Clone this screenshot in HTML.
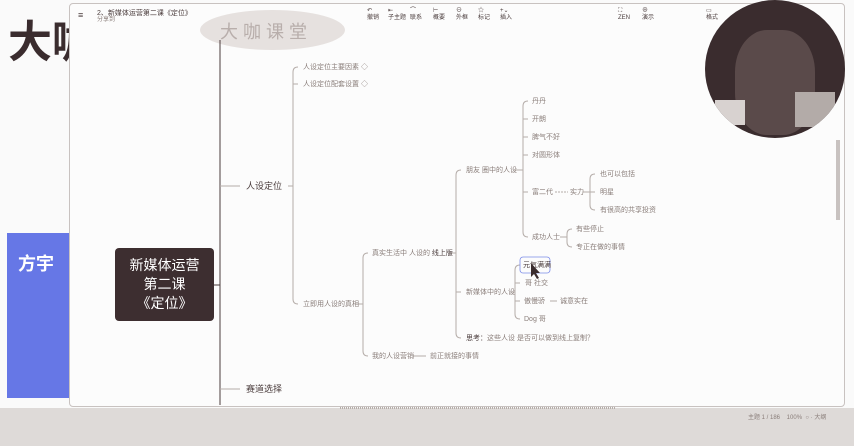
<!DOCTYPE html>
<html><head><meta charset="utf-8"><style>
body{margin:0;width:854px;height:446px;overflow:hidden;background:#fafafa;font-family:"Liberation Sans","Noto Sans CJK SC",sans-serif;position:relative}
.t{position:absolute;font-size:7px;color:#8a7e7a;white-space:nowrap;line-height:9px}
.d{color:#4a3c3c}
</style></head><body>
<div style="position:absolute;left:0;top:408px;width:854px;height:38px;background:#dedad8"></div>
<div style="position:absolute;left:8px;top:20px;font-size:44px;font-weight:bold;color:#3a2c2e;line-height:46px">大咖</div>
<div style="position:absolute;left:7px;top:233px;width:63px;height:165px;background:#6677e6"></div>
<div style="position:absolute;left:18px;top:250px;font-size:18px;font-weight:bold;color:#fff">方宇</div>
<div style="position:absolute;left:69px;top:3px;width:774px;height:402px;background:#fcfcfc;border:1px solid #c8c2c0;border-radius:4px"></div>
<div class="t d" style="left:78px;top:11px;font-size:9px">≡</div>
<div class="t d" style="left:97px;top:9px;font-size:7px">2、新媒体运营第二课《定位》</div>
<div class="t" style="left:97px;top:16px;font-size:6px">分享到</div>
<div style="position:absolute;left:200px;top:10px;width:145px;height:40px;border-radius:50%;background:#e6e1df"></div>
<div class="t" style="left:220px;top:22px;font-size:18px;color:#b8aeab;line-height:20px">大 咖 课 堂</div>
<div class="t d" style="left:367px;top:8px;font-size:6px;line-height:7px">↶<br>撤销</div>
<div class="t d" style="left:388px;top:8px;font-size:6px;line-height:7px">⇤<br>子主题</div>
<div class="t d" style="left:410px;top:8px;font-size:6px;line-height:7px">⌒<br>联系</div>
<div class="t d" style="left:433px;top:8px;font-size:6px;line-height:7px">⊢<br>概要</div>
<div class="t d" style="left:456px;top:8px;font-size:6px;line-height:7px">⊖<br>外框</div>
<div class="t d" style="left:478px;top:8px;font-size:6px;line-height:7px">☆<br>标记</div>
<div class="t d" style="left:500px;top:8px;font-size:6px;line-height:7px">+⌄<br>插入</div>
<div class="t d" style="left:618px;top:8px;font-size:6px;line-height:7px">⛶<br>ZEN</div>
<div class="t d" style="left:642px;top:8px;font-size:6px;line-height:7px">⊕<br>演示</div>
<div class="t d" style="left:706px;top:8px;font-size:6px;line-height:7px">▭<br>格式</div>
<div style="position:absolute;left:705px;top:0;width:140px;height:138px;border-radius:50%;background:#3a2c2e;overflow:hidden">
<div style="position:absolute;left:30px;top:30px;width:80px;height:105px;border-radius:40%;background:#5a4a4a"></div>
<div style="position:absolute;left:90px;top:92px;width:40px;height:35px;background:#b3aba8"></div>
<div style="position:absolute;left:10px;top:100px;width:30px;height:25px;background:#d8d2d0"></div>
</div>
<div style="position:absolute;left:836px;top:140px;width:4px;height:80px;background:#c8c2c0"></div>
<svg style="position:absolute;left:0;top:0" width="854" height="446">
<g fill="none" stroke="#b5ada9" stroke-width="1">
<line x1="220" y1="40" x2="220" y2="405" stroke="#4a3c3c"/>
<line x1="214" y1="285" x2="220" y2="285" stroke="#4a3c3c"/>
<line x1="220" y1="186" x2="240" y2="186"/>
<line x1="220" y1="389" x2="240" y2="389"/>
<line x1="288" y1="186" x2="293" y2="186"/>
<path d="M298 67 Q293 67 293 72 V299 Q293 304 298 304"/>
<line x1="293" y1="84" x2="298" y2="84"/>
<line x1="355" y1="304" x2="363" y2="304"/>
<path d="M368 253 Q363 253 363 258 V351 Q363 356 368 356"/>
<line x1="412" y1="356" x2="426" y2="356"/>
<line x1="448" y1="253" x2="456" y2="253"/>
<path d="M461 170 Q456 170 456 175 V333 Q456 338 461 338"/>
<line x1="456" y1="292" x2="461" y2="292"/>
<line x1="513" y1="170" x2="523" y2="170"/>
<path d="M528 101 Q523 101 523 106 V232 Q523 237 528 237"/>
<line x1="523" y1="119" x2="528" y2="119"/><line x1="523" y1="137" x2="528" y2="137"/><line x1="523" y1="155" x2="528" y2="155"/><line x1="523" y1="192" x2="528" y2="192"/>
<line x1="555" y1="192" x2="568" y2="192" stroke-dasharray="2 1"/>
<line x1="583" y1="192" x2="590" y2="192"/>
<path d="M595 174 Q590 174 590 179 V205 Q590 210 595 210"/>
<line x1="590" y1="192" x2="595" y2="192"/>
<line x1="560" y1="237" x2="567" y2="237"/>
<path d="M572 229 Q567 229 567 234 V242 Q567 247 572 247"/>
<line x1="510" y1="292" x2="515" y2="292"/>
<path d="M520 265 Q515 265 515 270 V314 Q515 319 520 319"/>
<line x1="515" y1="283" x2="520" y2="283"/><line x1="515" y1="301" x2="520" y2="301"/>
<line x1="550" y1="301" x2="557" y2="301"/>
</g>
<rect x="520" y="257" width="30" height="16" rx="3" fill="none" stroke="#7a8ae8" stroke-width="0.8"/>
<path d="M531 263 L531 277 L534 274 L537 279 L539 278 L536 273 L540 273 Z" fill="#3a2c2e"/>
<line x1="340" y1="408" x2="615" y2="408" stroke="#b5ada9" stroke-width="2" stroke-dasharray="1 1"/>
</svg>
<div style="position:absolute;left:115px;top:248px;width:99px;height:73px;background:#3d2e30;border-radius:4px;color:#fff;font-size:14px;line-height:19px;text-align:center;padding-top:8px;box-sizing:border-box">新媒体运营<br>第二课<br>《定位》</div>
<div class="t d" style="left:246px;top:181px;font-size:9px;line-height:11px">人设定位</div>
<div class="t d" style="left:246px;top:384px;font-size:9px;line-height:11px">赛道选择</div>
<div class="t" style="left:303px;top:63px">人设定位主要因素 ◇</div>
<div class="t" style="left:303px;top:80px">人设定位配套设置 ◇</div>
<div class="t" style="left:303px;top:300px">立即用人设的真相</div>
<div class="t" style="left:372px;top:249px">真实生活中 人设的 <span style="color:#4a3c3c">线上版</span></div>
<div class="t" style="left:372px;top:352px">我的人设营销</div>
<div class="t" style="left:430px;top:352px">前正就接的事情</div>
<div class="t" style="left:466px;top:166px">朋友 圈中的人设</div>
<div class="t" style="left:466px;top:288px">新媒体中的人设</div>
<div class="t" style="left:466px;top:334px"><span style="color:#4a3c3c">思考：</span>这些人设 是否可以做到线上复制？</div>
<div class="t" style="left:532px;top:97px">丹丹</div>
<div class="t" style="left:532px;top:115px">开朗</div>
<div class="t" style="left:532px;top:133px">脾气不好</div>
<div class="t" style="left:532px;top:151px">对圆形体</div>
<div class="t" style="left:532px;top:188px">富二代</div>
<div class="t" style="left:570px;top:188px">实力</div>
<div class="t" style="left:532px;top:233px">成功人士</div>
<div class="t" style="left:600px;top:170px">也可以包括</div>
<div class="t" style="left:600px;top:188px">明星</div>
<div class="t" style="left:600px;top:206px">有很高的共享投资</div>
<div class="t" style="left:576px;top:225px">有些停止</div>
<div class="t" style="left:576px;top:243px">专正在做的事情</div>
<div class="t d" style="left:523px;top:261px">元气满满</div>
<div class="t" style="left:525px;top:279px">哥 社交</div>
<div class="t" style="left:524px;top:297px">傲慢骄</div>
<div class="t" style="left:560px;top:297px">诚意实在</div>
<div class="t" style="left:524px;top:315px">Dog 哥</div>
<div class="t" style="left:748px;top:414px;font-size:6px">主题 1 / 186 &nbsp;&nbsp; 100% &nbsp;○ · 大纲</div>
</body></html>
